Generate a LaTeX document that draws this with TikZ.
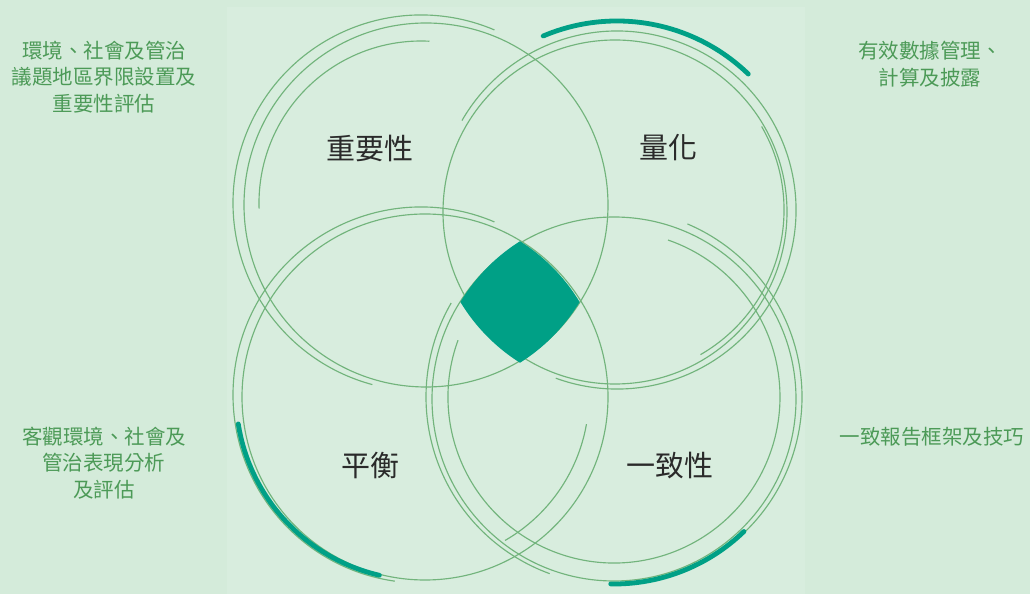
\documentclass[tikz,border=0pt]{standalone}
\usepackage{fontspec}
\setmainfont{Noto Sans CJK TC}
\definecolor{bgout}{HTML}{D4EBDA}
\definecolor{bgin}{HTML}{D8EDDE}
\definecolor{ringc}{HTML}{72B47C}
\definecolor{tealc}{HTML}{00A086}
\definecolor{sidetxt}{HTML}{4C9A57}
\definecolor{labtxt}{HTML}{2A2A2A}
\tikzset{
  ringline/.style={draw=ringc, line width=1.15pt},
  tealarc/.style={draw=tealc, line width=4.8pt, line cap=round},
  sidelabel/.style={text=sidetxt, align=center, font=\fontsize{20.5}{26.5}\selectfont, inner sep=0pt},
  biglabel/.style={text=labtxt, font=\fontsize{29}{34}\selectfont, inner sep=0pt}
}
\newcommand\ringarc[4]{\draw[ringline] ([shift={(#2:#4pt)}]#1) arc[start angle=#2, end angle=#3, radius=#4pt];}
\newcommand\tealring[4]{\draw[tealarc] ([shift={(#2:#4pt)}]#1) arc[start angle=#2, end angle=#3, radius=#4pt];}
\begin{document}
\begin{tikzpicture}[x=1pt,y=1pt]
\useasboundingbox (0,0) rectangle (1030,594);
\fill[bgout] (0,0) rectangle (1030,594);
\fill[bgin] (227,0) rectangle (805,587);
% centres
\coordinate (c1) at (421,391);
\coordinate (c1m) at (426,389);
\coordinate (c2) at (617,384);
\coordinate (c2m) at (615,382);
\coordinate (c3) at (421,199);
\coordinate (c3m) at (425,197);
\coordinate (c4) at (614,197);
\coordinate (c4m) at (614,195);
% TL ring
\draw[ringline] (c1m) circle[radius=182pt];
\ringarc{c1}{67}{255}{188}
\ringarc{c1}{87}{182}{162}
% TR ring
\draw[ringline] (c2m) circle[radius=172pt];
\ringarc{c2}{-110}{150}{179}
\ringarc{c2}{-60}{30}{167}
\tealring{c2}{46}{113}{189}
% BL ring
\draw[ringline] (c3m) circle[radius=183pt];
\ringarc{c3}{67}{262}{188}
\ringarc{c3}{-60}{-10}{168}
\tealring{c3}{189}{257}{185}
% BR ring
\draw[ringline] (c4m) circle[radius=182pt];
\ringarc{c4}{-46}{67}{188}
\ringarc{c4}{150}{250}{188}
\ringarc{c4}{-200}{71}{166}
\tealring{c4}{-91}{-46}{187}
% central diamond
\begin{scope}
\clip (422,387) circle[radius=184pt];
\clip (618,387) circle[radius=184pt];
\clip (422,197) circle[radius=184pt];
\fill[tealc] (618,197) circle[radius=184pt];
\end{scope}
% labels
\node[biglabel] (l1) at (370,446) {重要性};
\node[biglabel] (l2) at (668,446) {量化};
\node[biglabel] (l3) at (370,129) {平衡};
\node[biglabel] (l4) at (670,128) {一致性};
\node[sidelabel] (s1) at (104,517) {環境、社會及管治\\議題地區界限設置及\\重要性評估};
\node[sidelabel] (s2) at (930,530) {有效數據管理、\\計算及披露};
\node[sidelabel] (s3) at (104,131) {客觀環境、社會及\\管治表現分析\\及評估};
\node[sidelabel] (s4) at (932,157) {一致報告框架及技巧};
\end{tikzpicture}
\end{document}
